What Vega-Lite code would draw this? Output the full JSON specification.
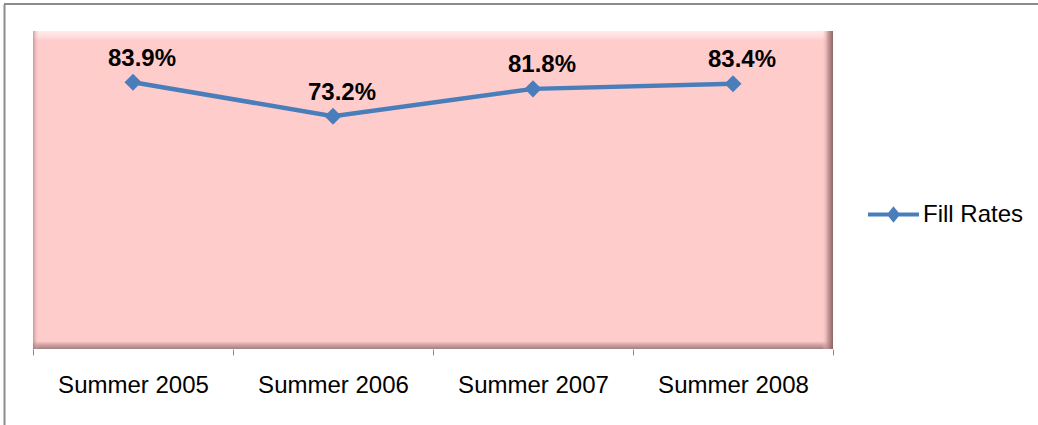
{
  "$schema": "https://vega.github.io/schema/vega-lite/v6.json",
  "width": 1034,
  "height": 421,
  "autosize": {"type": "none"},
  "padding": {"left": 4, "top": 4, "right": 0, "bottom": 0},
  "background": "white",
  "data": {
    "values": [
      {"period": "Summer 2005", "rate": 0.839, "series": "Fill Rates"},
      {"period": "Summer 2006", "rate": 0.732, "series": "Fill Rates"},
      {"period": "Summer 2007", "rate": 0.818, "series": "Fill Rates"},
      {"period": "Summer 2008", "rate": 0.834, "series": "Fill Rates"}
    ]
  },
  "layer": [
    {
      "mark": {
        "type": "rect",
        "fill": {
          "gradient": "linear", "x1": 0, "y1": 0, "x2": 0, "y2": 1,
          "stops": [
            {"offset": 0, "color": "#FFEAEA"},
            {"offset": 0.018, "color": "#FFDCDC"},
            {"offset": 0.03, "color": "#FFCCCC"},
            {"offset": 0.975, "color": "#FFCCCC"},
            {"offset": 0.985, "color": "#D8A8A8"},
            {"offset": 1, "color": "#A08080"}
          ]
        }
      },
      "encoding": {
        "x": {
          "field": "period", "type": "nominal", "sort": null,
          "scale": {"type": "band", "paddingInner": 0, "paddingOuter": 0.585, "align": 0.12393, "round": false}
        },
        "y": {
          "datum": 0, "type": "quantitative",
          "scale": {"domain": [-0.239, 1.0849], "nice": false, "zero": false},
          "axis": {"title": null, "labels": false, "ticks": false, "grid": false, "domain": true, "domainColor": "#8C8C8C", "domainWidth": 2}
        },
        "y2": {"datum": 1}
      }
    },
    {
      "transform": [{"filter": "datum.period === 'Summer 2005'"}],
      "mark": {
        "type": "rect",
        "fill": {
          "gradient": "linear", "x1": 0, "y1": 0, "x2": 1, "y2": 0,
          "stops": [
            {"offset": 0, "color": "rgba(160,115,115,0.6)"},
            {"offset": 0.03, "color": "rgba(255,204,204,0)"},
            {"offset": 1, "color": "rgba(255,204,204,0)"}
          ]
        }
      },
      "encoding": {
        "x": {"field": "period", "type": "nominal", "sort": null},
        "y": {"datum": 0, "type": "quantitative"},
        "y2": {"datum": 1}
      }
    },
    {
      "transform": [{"filter": "datum.period === 'Summer 2008'"}],
      "mark": {
        "type": "rect",
        "fill": {
          "gradient": "linear", "x1": 0, "y1": 0, "x2": 1, "y2": 0,
          "stops": [
            {"offset": 0, "color": "rgba(255,204,204,0)"},
            {"offset": 0.945, "color": "rgba(255,204,204,0)"},
            {"offset": 0.975, "color": "rgba(190,140,140,0.8)"},
            {"offset": 1, "color": "rgba(130,95,95,0.95)"}
          ]
        }
      },
      "encoding": {
        "x": {"field": "period", "type": "nominal", "sort": null},
        "y": {"datum": 0, "type": "quantitative"},
        "y2": {"datum": 1}
      }
    },
    {
      "mark": {"type": "rule", "color": "#8C8C8C", "strokeWidth": 2},
      "encoding": {
        "y": {"datum": 1.0849, "type": "quantitative"}
      }
    },
    {
      "mark": {"type": "line", "color": "#4A7EBB", "strokeWidth": 4.5},
      "encoding": {
        "x": {"field": "period", "type": "nominal", "sort": null},
        "y": {"field": "rate", "type": "quantitative"}
      }
    },
    {
      "mark": {"type": "point", "shape": "diamond", "size": 290, "filled": true, "opacity": 1},
      "encoding": {
        "x": {"field": "period", "type": "nominal", "sort": null},
        "y": {"field": "rate", "type": "quantitative"},
        "color": {
          "field": "series", "type": "nominal",
          "scale": {"range": ["#4A7EBB"]},
          "legend": {
            "title": null,
            "orient": "none",
            "legendX": 864,
            "legendY": 185,
            "padding": 0,
            "symbolType": "M-1,-0.08L1,-0.08L1,0.08L-1,0.08Z M0,-0.32L0.26,0L0,0.32L-0.26,0Z",
            "symbolSize": 2601,
            "symbolStrokeWidth": 0,
            "labelFont": "Liberation Sans",
            "labelFontSize": 24,
            "labelColor": "#000000",
            "labelOffset": 4
          }
        }
      }
    },
    {
      "mark": {"type": "text", "font": "Liberation Sans", "fontSize": 24, "fontWeight": "bold", "color": "#000000", "dx": 9, "dy": -23.5, "baseline": "middle", "align": "center"},
      "encoding": {
        "x": {"field": "period", "type": "nominal", "sort": null},
        "y": {"field": "rate", "type": "quantitative"},
        "text": {"field": "rate", "type": "quantitative", "format": ".1%"}
      }
    }
  ],
  "config": {
    "view": {"stroke": null},
    "font": "Liberation Sans",
    "axisX": {
      "title": null,
      "orient": "bottom",
      "offset": -76,
      "domain": false,
      "grid": false,
      "tickBand": "extent",
      "tickColor": "#8C8C8C",
      "tickSize": 6,
      "tickWidth": 1,
      "labelAngle": 0,
      "labelFont": "Liberation Sans",
      "labelFontSize": 24,
      "labelColor": "#000000",
      "labelPadding": 18
    }
  }
}
